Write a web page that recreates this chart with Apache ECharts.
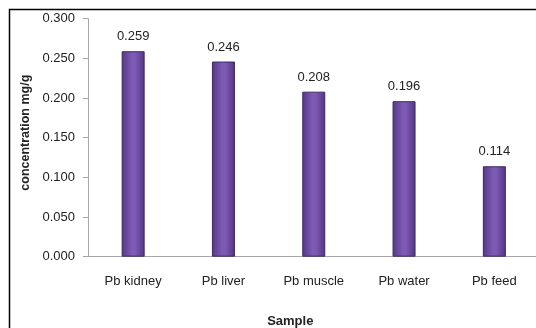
<!DOCTYPE html>
<html>
<head>
<meta charset="utf-8">
<script src="https://cdn.jsdelivr.net/npm/echarts@6/dist/echarts.min.js"></script>
<style>
  html, body { margin: 0; padding: 0; background: #ffffff; }
  #chart { width: 536px; height: 328px; }
</style>
</head>
<body>
<div id="chart"></div>
<script>
// Lead concentration per sample type
const categories = ['Pb kidney', 'Pb liver', 'Pb muscle', 'Pb water', 'Pb feed'];
const concentrations = [0.259, 0.246, 0.208, 0.196, 0.114];
const yTicks = { min: 0, max: 0.3, interval: 0.05 };

const fontFamily = '"Liberation Sans", Arial, sans-serif';

const chart = echarts.init(document.getElementById('chart'), null, { renderer: 'canvas' });

const barFill = new echarts.graphic.LinearGradient(0, 0, 1, 0, [
  { offset: 0, color: '#553885' },
  { offset: 0.45, color: '#7e5bb5' },
  { offset: 0.6, color: '#7c59b2' },
  { offset: 1, color: '#523582' }
]);

chart.setOption({
  animation: false,
  backgroundColor: '#ffffff',
  graphic: [{
    type: 'rect',
    shape: { x: 9.5, y: 9.5, width: 540, height: 340 },
    style: { fill: 'none', stroke: '#000000', lineWidth: 1.5 },
    silent: true,
    z: -1
  }],
  grid: {
    left: 88, top: 18.7, right: -3.5, bottom: 328 - 256.7,
    containLabel: false,
    outerBoundsMode: 'none'
  },
  xAxis: {
    type: 'category',
    data: categories,
    name: 'Sample',
    nameLocation: 'middle',
    nameGap: 58,
    nameTextStyle: { fontFamily, fontSize: 13, fontWeight: 'bold', color: '#222', padding: [0, 47, 0, 0] },
    axisLine: { lineStyle: { color: '#a6a6a6', width: 1 } },
    axisTick: { show: false },
    axisLabel: { fontFamily, fontSize: 13, color: '#222', margin: 18 }
  },
  yAxis: {
    type: 'value',
    min: yTicks.min,
    max: yTicks.max,
    interval: yTicks.interval,
    name: 'concentration mg/g',
    nameLocation: 'middle',
    nameGap: 50,
    nameRotate: 90,
    nameTextStyle: { fontFamily, fontSize: 12.5, fontWeight: 'bold', color: '#222', padding: [0, 0, 0, 10] },
    axisLine: { show: true, lineStyle: { color: '#a6a6a6', width: 1 } },
    axisTick: { show: true, length: 5, lineStyle: { color: '#a6a6a6' } },
    splitLine: { show: false },
    axisLabel: {
      fontFamily, fontSize: 13, color: '#222', margin: 13,
      formatter: v => v.toFixed(3)
    }
  },
  series: [{
    type: 'bar',
    data: concentrations,
    barWidth: 23,
    itemStyle: { color: barFill, borderColor: '#3f2863', borderWidth: 1 },
    label: {
      show: true,
      position: 'top',
      distance: 8,
      fontFamily, fontSize: 13, color: '#222',
      formatter: p => p.value.toFixed(3)
    }
  }]
});
</script>
</body>
</html>
